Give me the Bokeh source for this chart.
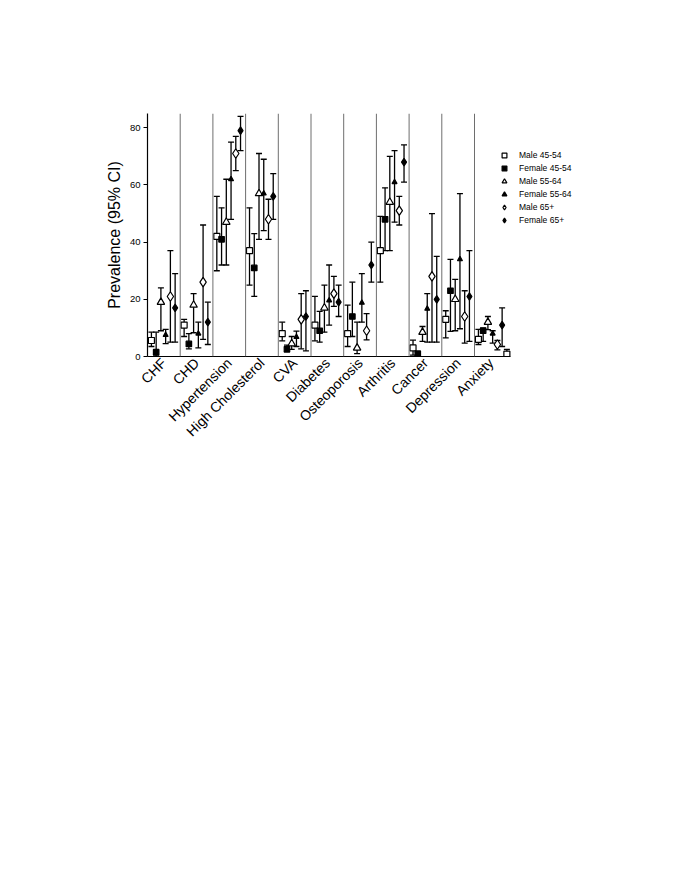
import numpy as np
from bokeh.plotting import figure
from bokeh.models import Range1d, FixedTicker, Span, Legend, LegendItem
from bokeh.embed import file_html
from bokeh.resources import INLINE

categories = ["CHF", "CHD", "Hypertension", "High Cholesterol", "CVA", "Diabetes",
              "Osteoporosis", "Arthritis", "Cancer", "Depression", "Anxiety"]

series_names = ["Male 45-54", "Female 45-54", "Male 55-64", "Female 55-64", "Male 65+", "Female 65+"]

male_45_54    = [5.6, 11.0, 42.0, 37.0, 8.0, 11.0, 8.0, 37.0, 3.0, 13.0, 6.0]
male_45_54_lo = [3.5, 7.0, 30.0, 25.0, 5.5, 5.5, 3.5, 26.0, 0.5, 6.5, 4.2]
male_45_54_hi = [8.5, 13.0, 56.0, 52.0, 12.0, 21.0, 18.0, 49.0, 5.7, 16.0, 9.5]

female_45_54    = [1.5, 4.4, 41.0, 31.0, 2.5, 9.0, 14.0, 48.0, 1.0, 23.0, 9.0]
female_45_54_lo = [0.2, 2.7, 32.0, 21.0, 1.8, 5.0, 7.0, 37.0, 0.5, 8.8, 5.3]
female_45_54_hi = [8.5, 8.0, 52.0, 43.0, 4.0, 15.8, 26.0, 59.0, 1.5, 34.0, 10.0]

male_55_64    = [19.0, 18.0, 47.0, 57.0, 4.5, 17.0, 3.0, 54.0, 8.5, 20.0, 12.0]
male_55_64_lo = [9.0, 8.3, 32.0, 41.0, 2.5, 8.5, 1.0, 37.0, 5.3, 9.0, 9.4]
male_55_64_hi = [24.0, 22.0, 62.0, 71.0, 7.0, 25.0, 12.0, 70.0, 10.5, 27.0, 14.0]

female_55_64    = [7.5, 8.0, 62.0, 57.0, 6.8, 19.6, 18.8, 61.0, 16.7, 34.0, 8.0]
female_55_64_lo = [4.5, 3.0, 48.0, 44.0, 3.5, 11.0, 12.0, 47.0, 5.0, 9.7, 4.7]
female_55_64_hi = [9.5, 12.0, 75.0, 69.0, 8.9, 32.0, 29.0, 72.0, 22.0, 57.0, 9.0]

male_65    = [21.0, 26.0, 71.0, 48.0, 13.0, 22.0, 9.0, 51.0, 28.0, 14.0, 4.2]
male_65_lo = [5.0, 6.0, 65.0, 41.0, 2.7, 17.5, 5.8, 46.0, 5.0, 4.7, 2.3]
male_65_hi = [37.0, 46.0, 77.0, 55.0, 22.0, 28.0, 15.0, 56.0, 50.0, 23.0, 5.6]

female_65    = [17.0, 12.0, 79.0, 56.0, 14.0, 19.0, 32.0, 68.0, 20.0, 21.0, 11.0]
female_65_lo = [5.0, 4.2, 72.0, 48.0, 2.0, 14.0, 26.0, 61.0, 5.0, 5.3, 3.5]
female_65_hi = [29.0, 19.0, 84.0, 64.0, 23.0, 25.0, 40.0, 74.0, 35.0, 37.0, 17.0]

# stray open square at the right edge of the Anxiety panel in the original figure
extra_category = ["Anxiety"]
extra_value = [0.8]
extra_lo = [0.8]
extra_hi = [2.5]

y_ticks = [0, 20, 40, 60, 80]

values = [male_45_54, female_45_54, male_55_64, female_55_64, male_65, female_65]
lows = [male_45_54_lo, female_45_54_lo, male_55_64_lo, female_55_64_lo, male_65_lo, female_65_lo]
highs = [male_45_54_hi, female_45_54_hi, male_55_64_hi, female_55_64_hi, male_65_hi, female_65_hi]

offsets = [0.12, 0.265, 0.41, 0.555, 0.70, 0.845, 0.99]
styles = [
    dict(marker="square", size=6, fill_color="white"),
    dict(marker="square", size=5.5, fill_color="black"),
    dict(marker="triangle", size=7.5, fill_color="white"),
    dict(marker="triangle", size=5, fill_color="black"),
    dict(marker="diamond", size=9.5, fill_color="white"),
    dict(marker="diamond", size=7.5, fill_color="black"),
]

FONT = "Liberation Sans"
PANEL_PX = 32.7
FRAME_W = 453
AXIS_END = 11.1

p = figure(width=669, height=458, x_range=Range1d(0, FRAME_W / PANEL_PX), y_range=Range1d(0, 85),
           output_backend="svg", toolbar_location=None, title=None,
           min_border_left=147, min_border_right=669 - 147 - FRAME_W,
           min_border_top=113, min_border_bottom=102)
p.outline_line_color = None
p.grid.visible = False
p.background_fill_color = "white"
p.border_fill_color = "white"

for i in range(1, len(categories)):
    p.add_layout(Span(location=i, dimension="height", line_color="#6e6e6e", line_width=1))

cat_index = np.arange(len(categories))
LW = 1.3
renderers = []
for k in range(6):
    x = cat_index + offsets[k]
    p.segment(x, lows[k], x, highs[k], line_color="black", line_width=LW)
    p.scatter(x, lows[k], marker="dash", size=6, line_color="black", line_width=LW)
    p.scatter(x, highs[k], marker="dash", size=6, line_color="black", line_width=LW)
for k in range(6):
    x = cat_index + offsets[k]
    st = styles[k]
    r = p.scatter(x, values[k], marker=st["marker"], size=st["size"], fill_color=st["fill_color"],
                  line_color="black", line_width=1.2)
    renderers.append(r)

ex = np.array([categories.index(c) for c in extra_category]) + offsets[6]
p.segment(ex, extra_lo, ex, extra_hi, line_color="black", line_width=LW)
p.scatter(ex, extra_hi, marker="dash", size=6, line_color="black", line_width=LW)
p.scatter(ex, extra_value, marker="square", size=6, fill_color="white", line_color="black", line_width=1.2)

# axes
p.xaxis.bounds = (0, AXIS_END)
p.xaxis.ticker = FixedTicker(ticks=[i + 0.5 for i in range(len(categories))])
p.xaxis.major_label_overrides = {i + 0.5: c for i, c in enumerate(categories)}
p.xaxis.major_label_orientation = np.pi / 4
p.xaxis.major_tick_out = 0
p.xaxis.major_tick_in = 0
p.xaxis.minor_tick_out = 0
p.xaxis.minor_tick_in = 0
p.xaxis.major_label_standoff = 4
p.xaxis.major_label_text_font = FONT
p.xaxis.major_label_text_font_size = "14px"
p.xaxis.major_label_text_color = "black"
p.xaxis.axis_line_color = "black"
p.xaxis.axis_line_width = 1.2

p.yaxis.ticker = FixedTicker(ticks=y_ticks)
p.yaxis.minor_tick_out = 0
p.yaxis.minor_tick_in = 0
p.yaxis.major_tick_out = 4
p.yaxis.major_tick_in = 0
p.yaxis.major_tick_line_width = 1.2
p.yaxis.major_label_standoff = 3
p.yaxis.major_label_text_font = FONT
p.yaxis.major_label_text_font_size = "9.5px"
p.yaxis.major_label_text_color = "black"
p.yaxis.axis_line_color = "black"
p.yaxis.axis_line_width = 1.2
p.yaxis.axis_label = "Prevalence (95% CI)"
p.yaxis.axis_label_text_font = FONT
p.yaxis.axis_label_text_font_size = "16px"
p.yaxis.axis_label_text_font_style = "normal"
p.yaxis.axis_label_text_color = "black"
p.yaxis.axis_label_standoff = 4

legend = Legend(items=[LegendItem(label=n, renderers=[r]) for n, r in zip(series_names, renderers)],
                location=(351, 130), orientation="vertical",
                glyph_width=12, glyph_height=12, label_height=12, spacing=1,
                label_standoff=9, padding=0, margin=0,
                label_text_font=FONT, label_text_font_size="8.5px", label_text_color="black",
                border_line_color=None, background_fill_alpha=0)
p.add_layout(legend, "center")

open("out.html", "w").write(file_html(p, INLINE))
